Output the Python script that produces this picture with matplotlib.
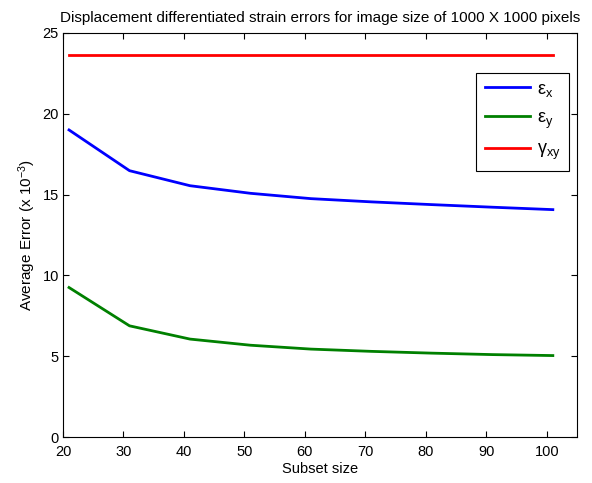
import matplotlib
matplotlib.use("Agg")
import matplotlib.pyplot as plt

plt.rcParams['font.family'] = ['Liberation Sans', 'DejaVu Sans']
plt.rcParams['mathtext.fontset'] = 'custom'
plt.rcParams['mathtext.rm'] = 'Liberation Sans'
plt.rcParams['mathtext.it'] = 'Liberation Sans'

subset = [21, 31, 41, 51, 61, 71, 81, 91, 101]
eps_x = [19.0, 16.48, 15.55, 15.08, 14.75, 14.55, 14.38, 14.22, 14.07]
eps_y = [9.25, 6.88, 6.06, 5.68, 5.44, 5.30, 5.19, 5.10, 5.04]
gam_xy = [23.62] * len(subset)
labels = [r'$\mathregular{\epsilon_x}$', r'$\mathregular{\epsilon_y}$', r'$\mathregular{\gamma_{xy}}$']

fig = plt.figure(figsize=(5.92, 4.83), dpi=100)
ax = fig.add_axes([0.1064, 0.0952, 0.8683, 0.8365])
ax.plot(subset, eps_x, color='#0000ff', lw=2, label=labels[0])
ax.plot(subset, eps_y, color='#008000', lw=2, label=labels[1])
ax.plot(subset, gam_xy, color='#ff0000', lw=2, label=labels[2])

ax.set_xlim(20, 105)
ax.set_ylim(0, 25)
ax.set_xticks(range(20, 101, 10))
ax.set_yticks(range(0, 26, 5))
ax.tick_params(direction='in', top=True, right=True, labelsize=10.5, length=4)
ax.tick_params(axis='x', pad=6)
ax.tick_params(axis='y', pad=3)
ax.set_xlabel('Subset size', fontsize=10.5, labelpad=2)
ax.set_ylabel(r'Average Error (x 10$^{-3}$)', fontsize=11, labelpad=3)
ax.set_title('Displacement differentiated strain errors for image size of 1000 X 1000 pixels', fontsize=11, pad=8)

leg = ax.legend(loc='upper right', bbox_to_anchor=(0.984, 0.902), fontsize=13, fancybox=False,
                edgecolor='black', framealpha=1, handlelength=2.5, labelspacing=0.6,
                borderpad=0.45, handletextpad=0.4, borderaxespad=0)
leg.get_frame().set_linewidth(0.8)

fig.savefig('out.png', dpi=100)
